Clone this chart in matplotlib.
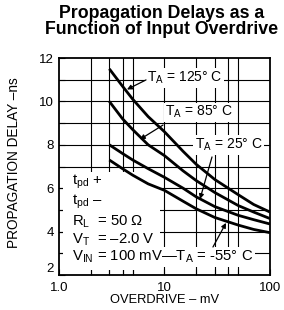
import matplotlib
matplotlib.use('Agg')
import matplotlib.pyplot as plt
from matplotlib.patches import Rectangle

plt.rcParams['font.family'] = ['Liberation Sans', 'DejaVu Sans']
plt.rcParams['mathtext.fontset'] = 'custom'
plt.rcParams['mathtext.rm'] = 'Liberation Sans'
plt.rcParams['mathtext.it'] = 'Liberation Sans'

# overdrive in mV
overdrive = [3, 4, 5, 7, 10, 15, 20, 30, 50, 70, 100]
# propagation delay in ns
delay_125 = [11.5, 10.7, 10.1, 9.3, 8.6, 7.7, 7.1, 6.4, 5.7, 5.25, 4.9]
delay_85 = [10.0, 9.2, 8.7, 8.0, 7.5, 6.8, 6.35, 5.8, 5.2, 4.9, 4.6]
delay_25 = [8.0, 7.6, 7.3, 6.9, 6.5, 6.0, 5.6, 5.15, 4.75, 4.55, 4.35]
delay_m55 = [7.3, 6.9, 6.6, 6.2, 5.9, 5.4, 5.05, 4.65, 4.3, 4.1, 3.95]

x_ticks = [1, 10, 100]
x_ticklabels = ['1.0', '10', '100']
x_grid = [2, 3, 4, 5, 10, 20, 30, 40, 50]
y_ticks = [2, 4, 6, 8, 10, 12]
y_grid = [3, 4, 5, 6, 7, 8, 9, 10, 11]

fig = plt.figure(figsize=(2.84, 3.10), dpi=100)
ax = fig.add_axes([0.2077, 0.1129, 0.743, 0.70])

for xv in x_grid:
    ax.axvline(xv, color='black', lw=0.8, zorder=1)
for yv in y_grid:
    ax.axhline(yv, color='black', lw=0.8, zorder=1)

# white area behind the conditions block
ax.add_patch(Rectangle((1.1, 2.25), 8.0, 4.5, facecolor='white', edgecolor='none', zorder=2))

for d in [delay_125, delay_85, delay_25, delay_m55]:
    ax.plot(overdrive, d, color='black', lw=2.0, zorder=4, solid_capstyle='butt')

ax.set_xscale('log')
ax.set_xlim(1, 100)
ax.set_ylim(2, 12)
ax.set_xticks(x_ticks)
ax.set_xticklabels(x_ticklabels)
ax.set_xticks([2, 3, 4, 5, 20, 30, 40, 50], minor=True)
ax.set_xticklabels([], minor=True)
ax.set_yticks(y_ticks)
ax.set_yticks([3, 5, 7, 9, 11], minor=True)
ax.tick_params(which='both', direction='in', length=4, width=0.8, labelsize=9.5)
ax.tick_params(axis='x', pad=5)
ax.get_yticklabels()[0].set_va('bottom')
for s in ax.spines.values():
    s.set_linewidth(1.3)
    s.set_zorder(6)

ax.set_xlabel('OVERDRIVE – mV', fontsize=9.3, labelpad=0)
fig.text(0.049, 0.475, 'PROPAGATION DELAY –ns', rotation=90, ha='center', va='center', fontsize=9.8)

box = dict(facecolor='white', edgecolor='none', pad=1)
fs = 10
fb = 10.7
ax.text(6.8, 11.08, r'$\mathregular{T_A}$ = 125° C', fontsize=fs, va='center', bbox=box, zorder=5)
ax.text(10.1, 9.5, r'$\mathregular{T_A}$ = 85° C', fontsize=fs, va='center', bbox=box, zorder=5)
ax.text(19.4, 7.99, r'$\mathregular{T_A}$ = 25° C', fontsize=fs, va='center', bbox=box, zorder=5)

ax.text(1.33, 6.3, r'$\mathregular{t_{pd}}$ +', fontsize=fb, va='center', zorder=5)
ax.text(1.33, 5.37, r'$\mathregular{t_{pd}}$ –', fontsize=fb, va='center', zorder=5)
ax.text(1.33, 4.45, r'$\mathregular{R_L}$  = 50 Ω', fontsize=fb, va='center', zorder=5)
ax.text(1.33, 3.6, r'$\mathregular{V_T}$  = –2.0 V', fontsize=fb, va='center', zorder=5)
ax.text(1.33, 2.83, r'$\mathregular{V_{IN}}$ = 100 mV—$\mathregular{T_A}$ = -55° C', fontsize=fb,
        va='center', bbox=box, zorder=5)

arrow = dict(arrowstyle='-|>', color='black', lw=0.9, mutation_scale=7, shrinkA=0, shrinkB=0)
ax.annotate('', xy=(4.41, 10.55), xytext=(6.68, 10.99), arrowprops=arrow, zorder=5)
ax.annotate('', xy=(5.86, 8.25), xytext=(9.68, 8.91), arrowprops=arrow, zorder=5)
ax.annotate('', xy=(21.7, 5.5), xytext=(28.2, 7.44), arrowprops=arrow, zorder=5)
ax.annotate('', xy=(38.3, 4.4), xytext=(28.8, 3.29), arrowprops=arrow, zorder=5)

fig.text(0.57, 0.985, 'Propagation Delays as a\nFunction of Input Overdrive', ha='center', va='top',
         fontsize=12.8, fontweight='bold', linespacing=0.92)

fig.savefig('out.png', dpi=100)
